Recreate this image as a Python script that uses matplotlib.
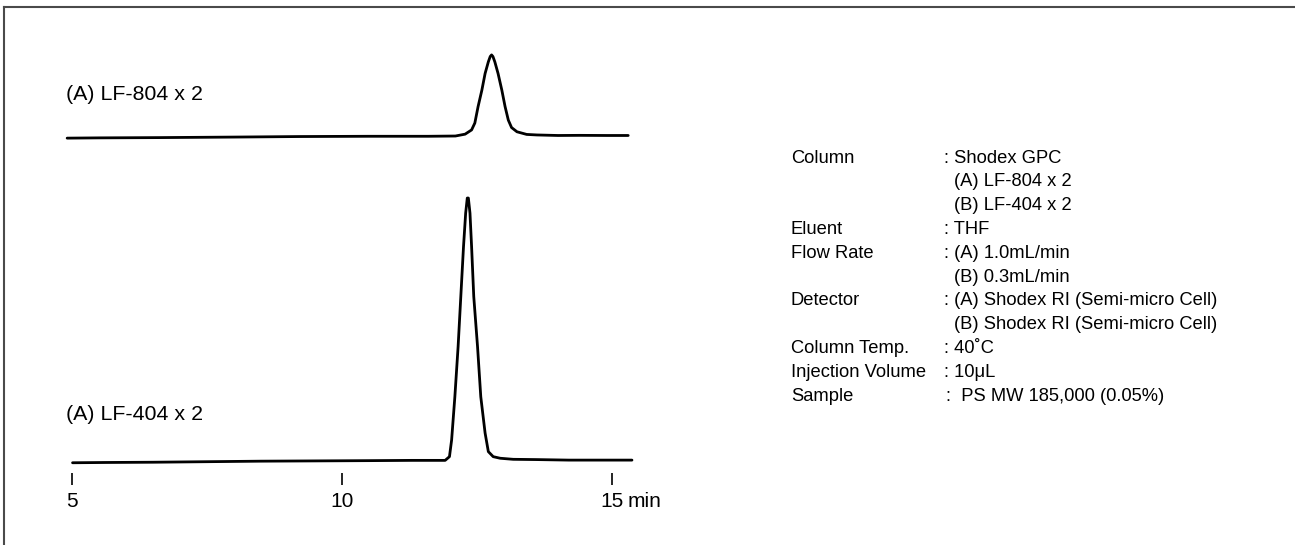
import matplotlib
matplotlib.use("Agg")
import matplotlib.pyplot as plt
from matplotlib.lines import Line2D

plt.rcParams['font.family'] = ['Liberation Sans', 'DejaVu Sans']

# ---------------- data ----------------
# Lower trace: (A) LF-404 x 2  -- time [min], signal [a.u., apex = 100]
lf404_time = [5.01, 5.6, 6.5, 7.5, 8.5, 9.5, 10.5, 11.3, 11.85, 11.91, 11.99,
              12.03, 12.09, 12.15, 12.20, 12.25, 12.29, 12.32, 12.34, 12.37, 12.40,
              12.44, 12.51, 12.57, 12.65, 12.71, 12.80, 12.93, 13.17, 13.6,
              14.2, 14.8, 15.37]
lf404_signal = [-0.4, -0.3, -0.2, 0.0, 0.2, 0.3, 0.4, 0.5, 0.5, 0.5, 1.9,
                8.2, 24.5, 43.4, 62.3, 81.1, 93.8, 99.5, 99.5, 93.8, 81.1,
                62.3, 43.4, 24.5, 10.8, 3.8, 1.9, 1.3, 0.9, 0.8,
                0.6, 0.6, 0.6]

# Upper trace: (A) LF-804 x 2
lf804_time = [4.91, 5.5, 6.6, 8.0, 9.2, 10.5, 11.6, 12.1, 12.28, 12.40, 12.46,
              12.52, 12.59, 12.65, 12.71, 12.745, 12.77, 12.795, 12.83, 12.89,
              12.96, 13.02, 13.08, 13.14, 13.24, 13.42, 13.61, 14.0, 14.4, 14.9,
              15.30]
lf804_signal = [-0.6, -0.5, -0.4, -0.2, 0.0, 0.1, 0.1, 0.2, 0.9, 2.5, 5.1,
                11.3, 17.5, 23.8, 28.2, 30.2, 30.8, 30.2, 28.2, 23.8,
                17.5, 11.3, 6.2, 3.4, 1.8, 0.8, 0.6, 0.4, 0.45, 0.4,
                0.4]

trace_labels = ["(A) LF-804 x 2", "(A) LF-404 x 2"]

tick_values = [5, 10, 15]
tick_labels = ["5", "10", "15"]
axis_unit = "min"

cond_keys = ["Column", "", "", "Eluent", "Flow Rate", "", "Detector", "",
             "Column Temp.", "Injection Volume", "Sample"]
cond_values = [": Shodex GPC", "(A) LF-804 x 2", "(B) LF-404 x 2", ": THF",
               ": (A) 1.0mL/min", "(B) 0.3mL/min",
               ": (A) Shodex RI (Semi-micro Cell)", "(B) Shodex RI (Semi-micro Cell)",
               ": 40\u02daC", ": 10\u03bcL", ":  PS MW 185,000 (0.05%)"]

# ---------------- layout ----------------
W, H = 1295, 545
fig = plt.figure(figsize=(W / 100, H / 100), dpi=100)
fig.patch.set_facecolor("white")

def fx(x):
    return x / W

def fy(y):
    return 1 - y / H

UPPER_OFFSET = 122.7  # vertical offset of the upper chromatogram

ax = fig.add_axes([fx(40), fy(473), (700 - 40) / W, (473 - 40) / H])
ax.set_xlim(5 - 32 / 54, 15 + 88 / 54)
ax.set_ylim(-(473 - 461.7) / 2.65, (461.7 - 40) / 2.65)

ax.plot(lf404_time, lf404_signal, color="black", lw=2.0,
        solid_joinstyle="round", solid_capstyle="round")
ax.plot(lf804_time, [v + UPPER_OFFSET for v in lf804_signal], color="black",
        lw=2.0, solid_joinstyle="round", solid_capstyle="round")

for s in ax.spines.values():
    s.set_visible(False)
ax.set_yticks([])
ax.set_xticks(tick_values)
ax.set_xticklabels(tick_labels)
ax.tick_params(axis="x", direction="out", length=8.3, width=1.2, pad=5.5,
               labelsize=15, colors="black")
ax.patch.set_alpha(0)

fig.text(fx(628), fy(507), axis_unit, fontsize=15, ha="left", va="baseline")

# trace labels
fig.text(fx(66), fy(100), trace_labels[0], fontsize=15.4, ha="left", va="baseline")
fig.text(fx(66), fy(420), trace_labels[1], fontsize=15.4, ha="left", va="baseline")

# condition table
for i, (k, v) in enumerate(zip(cond_keys, cond_values)):
    yb = 162.6 + 23.8 * i
    if k:
        fig.text(fx(791), fy(yb), k, fontsize=13.25, ha="left", va="baseline")
    if v.startswith(":  "):
        xv = 946
    elif v.startswith(":"):
        xv = 944
    else:
        xv = 954
    fig.text(fx(xv), fy(yb), v, fontsize=13.25, ha="left", va="baseline")

# frame lines (top and left)
fig.add_artist(Line2D([fx(4.3), 1.0], [fy(6.5), fy(6.5)], color="#4a4a4a", lw=1.5))
fig.add_artist(Line2D([fx(4.3), fx(4.3)], [fy(6.5), 0.0], color="#4a4a4a", lw=1.5))

fig.savefig("out.png", dpi=100, facecolor="white")
